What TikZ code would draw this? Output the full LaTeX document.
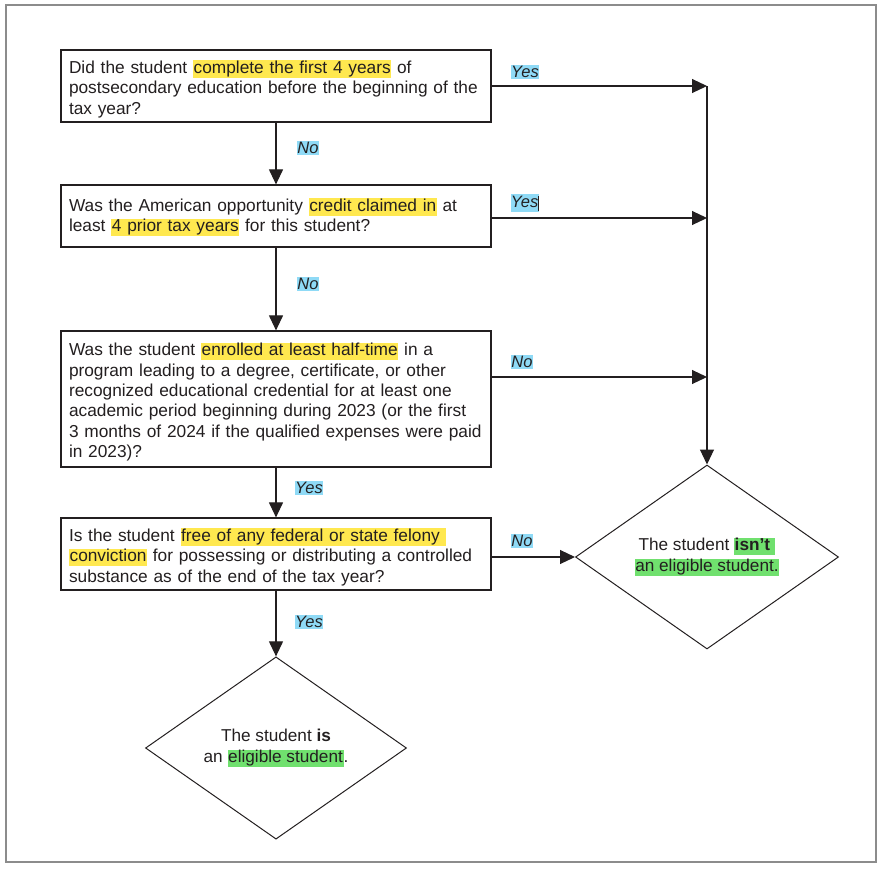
\documentclass[tikz,border=0pt]{standalone}
\usepackage{fontspec}
\setmainfont{Liberation Sans}
\usetikzlibrary{arrows.meta,shapes.geometric}
\definecolor{ink}{HTML}{231F20}
\definecolor{hly}{HTML}{FFE84F}
\definecolor{hlb}{HTML}{8FDAF6}
\definecolor{hlg}{HTML}{70E06E}
\definecolor{framec}{HTML}{8C8C8C}
\newcommand\hly[1]{{\setlength{\fboxsep}{0.6pt}\colorbox{hly}{\vphantom{Alyg}#1}}}
\newcommand\hlg[1]{{\setlength{\fboxsep}{0.6pt}\colorbox{hlg}{\vphantom{Alyg}#1}}}
\begin{document}
\begin{tikzpicture}[x=1pt,y=-1pt,
  qbox/.style={draw=ink, line width=1.2pt, fill=white, text=ink, text width=414pt,
    inner xsep=8pt, inner ysep=0pt, align=left, font=\fontsize{17.3}{20.3}\selectfont,
    execute at begin node={\rule{0pt}{19pt}}},
  endd/.style={draw=ink, line width=1pt, diamond, inner sep=0pt, text=ink,
    align=center, font=\fontsize{17.2}{21}\selectfont},
  lab/.style={fill=hlb, inner xsep=0.3pt, inner ysep=1.5pt, text=ink,
    font=\fontsize{16.5}{18}\selectfont\itshape},
  arr/.style={draw=ink, line width=1.1pt, -{Triangle[length=15pt,width=14pt]}}]
\useasboundingbox (0,0) rectangle (881,868);
\draw[framec, line width=2pt] (6,5) rectangle (876,862);

\node[qbox, minimum height=72pt] (b1) at (276,86) {Did the student \hly{complete the first 4 years} of\\ postsecondary education before the beginning of the\\ tax year?};
\node[qbox, minimum height=62pt, execute at begin node={}] (b2) at (276,216) {Was the American opportunity \hly{credit claimed in} at\\ least \hly{4 prior tax years} for this student?\rule[-8pt]{0pt}{8pt}};
\node[qbox, minimum height=136pt] (b3) at (276,399) {Was the student \hly{enrolled at least half-time} in a\\ program leading to a degree, certificate, or other\\ recognized educational credential for at least one\\ academic period beginning during 2023 (or the first\\ 3 months of 2024 if the qualified expenses were paid\\ in 2023)?};
\node[qbox, minimum height=72pt] (b4) at (276,554) {Is the student \hly{free of any federal or state felony }\\ \hly{conviction} for possessing or distributing a controlled\\ substance as of the end of the tax year?};

\node[endd, minimum width=263pt, minimum height=184pt] (d1) at (707,557) {The student \hlg{\textbf{isn’t} }\\ \hlg{an eligible student.}};
\node[endd, minimum width=261pt, minimum height=180pt] (d2) at (276,748) {The student \textbf{is}\\ an \hlg{eligible student}.};

\coordinate (r1) at (707,86);
\coordinate (r2) at (707,218);
\coordinate (r3) at (707,377);

\draw[arr] (b1.east) -- (r1);
\draw[arr] (b2.east |- r2) -- (r2);
\draw[arr] (b3.east |- r3) -- (r3);
\draw[arr] (r1) -- (d1.north);
\draw[arr] (b4.east |- d1.west) -- (d1.west);
\draw[arr] (b1.south) -- (b2.north);
\draw[arr] (b2.south) -- (b3.north);
\draw[arr] (b3.south) -- (b4.north);
\draw[arr] (b4.south) -- (d2.north);

\node[lab] (l1) at (525,72) {Yes};
\node[lab] (l2) at (308,148) {No};
\node[lab] (l3) at (525,203) {Yes\rule[-3pt]{0.8pt}{15pt}};
\node[lab] (l4) at (308,284) {No};
\node[lab] (l5) at (522,362) {No};
\node[lab] (l6) at (309,488) {Yes};
\node[lab] (l7) at (522,541) {No};
\node[lab] (l8) at (309,622) {Yes};
\end{tikzpicture}
\end{document}
